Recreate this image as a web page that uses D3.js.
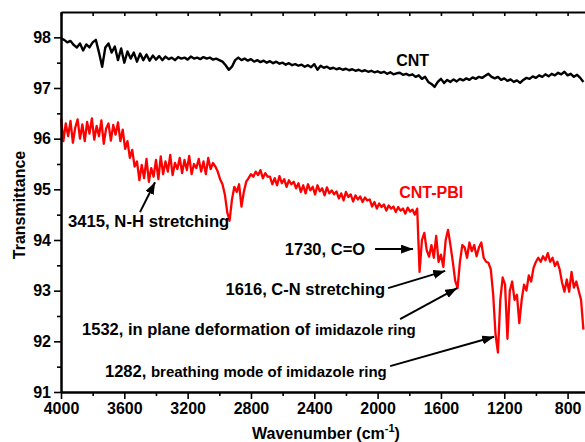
<!DOCTYPE html>
<html>
<head>
<meta charset="utf-8">
<script src="https://cdn.jsdelivr.net/npm/d3@7"></script>
<style>
  body { margin: 0; background: #fff; }
  svg text { font-family: "Liberation Sans", Arial, sans-serif; font-weight: bold; }
</style>
</head>
<body>
<script>
// FTIR traces, sampled on a fixed wavenumber grid (cm-1)
const cntStart = 4000, cntStep = 20;
const pbiStart = 4000, pbiStep = 15;

// CNT transmittance (%), 4000 -> 700 cm-1
const cntValues = [
  97.98, 97.95, 97.90, 97.93, 97.85, 97.80, 97.88, 97.74, 97.86, 97.80,
  97.90, 97.95, 97.70, 97.42, 97.80, 97.88, 97.70, 97.82, 97.55, 97.78,
  97.50, 97.72, 97.58, 97.70, 97.52, 97.68, 97.55, 97.66, 97.54, 97.64,
  97.56, 97.63, 97.55, 97.62, 97.57, 97.60, 97.55, 97.61, 97.58, 97.60,
  97.56, 97.62, 97.58, 97.60, 97.57, 97.61, 97.58, 97.60, 97.56, 97.58,
  97.55, 97.52, 97.45, 97.36, 97.42, 97.55, 97.60, 97.55, 97.58, 97.54,
  97.57, 97.52, 97.55, 97.51, 97.54, 97.50, 97.53, 97.49, 97.52, 97.48,
  97.50, 97.46, 97.49, 97.45, 97.47, 97.44, 97.46, 97.42, 97.45, 97.41,
  97.47, 97.36, 97.44, 97.40, 97.42, 97.38, 97.40, 97.37, 97.39, 97.36,
  97.38, 97.35, 97.37, 97.34, 97.36, 97.33, 97.35, 97.32, 97.34, 97.31,
  97.33, 97.30, 97.32, 97.28, 97.31, 97.27, 97.29, 97.30, 97.26, 97.28,
  97.25, 97.27, 97.22, 97.25, 97.18, 97.22, 97.12, 97.08, 97.02, 97.12,
  97.18, 97.10, 97.16, 97.12, 97.17, 97.13, 97.18, 97.15, 97.19, 97.16,
  97.21, 97.18, 97.22, 97.20, 97.24, 97.28, 97.22, 97.19, 97.22, 97.16,
  97.19, 97.14, 97.17, 97.12, 97.15, 97.10, 97.16, 97.20, 97.18, 97.23,
  97.20, 97.25, 97.22, 97.27, 97.23, 97.28, 97.25, 97.30, 97.27, 97.32,
  97.25, 97.28, 97.22, 97.26, 97.20, 97.12
];

// CNT-PBI transmittance (%), 4000 -> 700 cm-1
const pbiValues = [
  96.40, 95.95, 96.30, 96.05, 96.35, 95.92, 96.22, 96.38, 96.00, 96.28,
  95.95, 96.33, 96.10, 96.40, 95.98, 96.25, 96.05, 96.36, 95.90, 96.20,
  96.30, 95.96, 96.27, 96.08, 96.32,
  95.95, 96.18, 95.80, 95.95, 95.62, 95.78, 95.45,
  95.55, 95.18, 95.48, 95.22, 95.60, 95.15, 95.42, 95.25, 95.58, 95.20,
  95.65, 95.30, 95.55, 95.35, 95.68, 95.28, 95.52, 95.40, 95.62, 95.32,
  95.58, 95.38, 95.66, 95.30, 95.50, 95.42, 95.60, 95.35, 95.55, 95.30,
  95.62, 95.40, 95.52, 95.45,
  95.35, 95.20, 95.10,
  94.90, 94.55, 94.38, 94.80,
  95.05, 94.95, 95.10, 94.66,
  94.95, 95.15, 95.22, 95.30, 95.25, 95.35,
  95.28, 95.38, 95.22, 95.32, 95.25,
  95.25, 95.10, 95.22, 95.08, 95.26, 95.12, 95.20, 95.05, 95.18, 95.10,
  95.15, 95.02,
  95.12, 94.95, 95.08, 94.92, 95.10, 94.98, 95.05, 94.90, 95.08, 94.96,
  95.02, 94.88, 95.04, 94.92, 94.98, 94.90,
  94.96, 94.82, 94.92, 94.78, 94.95, 94.85, 94.90, 94.76, 94.88, 94.80,
  94.86, 94.75, 94.84, 94.78,
  94.80, 94.66, 94.75, 94.62, 94.72, 94.65, 94.70, 94.58, 94.68, 94.62,
  94.66, 94.55, 94.65, 94.58, 94.62, 94.52, 94.64, 94.56, 94.60, 94.50,
  94.62,
  93.37, 94.00, 94.14, 93.80, 93.67, 93.90, 93.65, 94.08, 93.57, 93.71,
  93.47, 94.00, 94.20, 93.90, 93.57, 93.20, 93.05, 93.57, 93.90, 93.85,
  93.65, 93.95, 93.78, 93.90, 93.68, 93.85, 93.95, 93.65, 93.57, 93.55,
  93.42, 92.92, 92.13, 91.78, 92.82, 93.26, 93.12, 92.05, 93.00, 93.18,
  92.82, 92.92, 92.36, 92.82, 93.12, 93.00, 93.30, 93.18, 93.45, 93.57,
  93.65, 93.57, 93.68, 93.60, 93.74, 93.57, 93.65, 93.49, 93.57, 93.42,
  93.16, 92.98, 93.22, 92.98, 93.37, 93.06, 93.18, 93.00, 92.82, 92.23
];

const yTicks = [91, 92, 93, 94, 95, 96, 97, 98];
const xTicks = [4000, 3600, 3200, 2800, 2400, 2000, 1600, 1200, 800];

const width = 585, height = 442;
const margin = { top: 12, left: 61, bottom: 50 };

const svg = d3.select("body")
    .append("svg")
    .attr("width", width)
    .attr("height", height);

// reversed wavenumber axis, cut at the right edge of the picture
const x = d3.scaleLinear().domain([4000, 690]).range([margin.left, width]);
const y = d3.scaleLinear().domain([91, 98.5]).range([height - margin.bottom, margin.top]);

const cnt = cntValues.map((v, i) => [cntStart - i * cntStep, v]);
const pbi = pbiValues.map((v, i) => [pbiStart - i * pbiStep, v]);

const line = d3.line().x(d => x(d[0])).y(d => y(d[1]));

svg.append("path")
    .datum(cnt)
    .attr("d", line)
    .attr("fill", "none")
    .attr("stroke", "#000")
    .attr("stroke-width", 2.4)
    .attr("stroke-linejoin", "round");

svg.append("path")
    .datum(pbi)
    .attr("d", line)
    .attr("fill", "none")
    .attr("stroke", "#ff0000")
    .attr("stroke-width", 2.3)
    .attr("stroke-linejoin", "round");

// axes
const y0 = height - margin.bottom;

const xMinor = d3.range(3800, 600, -400);
const yMinor = d3.range(91.5, 98.5, 1);

svg.append("g")
    .attr("transform", `translate(0,${y0})`)
    .call(d3.axisBottom(x).tickValues(xMinor).tickSize(4).tickSizeOuter(0).tickFormat(""));

svg.append("g")
    .attr("transform", `translate(0,${y0})`)
    .call(d3.axisBottom(x).tickValues(xTicks).tickSize(7).tickSizeOuter(0).tickPadding(4)
        .tickFormat(d3.format("d")))
    .call(g => g.selectAll("text").attr("font-size", 16).attr("fill", "#000"));

svg.append("g")
    .attr("transform", `translate(0,${margin.top})`)
    .call(d3.axisTop(x).tickValues(xTicks.concat(xMinor)).tickSize(-4).tickSizeOuter(0).tickFormat(""));

svg.append("g")
    .attr("transform", `translate(${margin.left},0)`)
    .call(d3.axisLeft(y).tickValues(yMinor).tickSize(4).tickSizeOuter(0).tickFormat(""));

svg.append("g")
    .attr("transform", `translate(${margin.left},0)`)
    .call(d3.axisLeft(y).tickValues(yTicks).tickSize(7).tickSizeOuter(0).tickPadding(3))
    .call(g => g.selectAll("text").attr("font-size", 16).attr("fill", "#000"));

svg.selectAll(".domain").attr("stroke", "#000").attr("stroke-width", 2);
svg.selectAll(".tick line").attr("stroke", "#000").attr("stroke-width", 1.6);

// axis titles
svg.append("text")
    .attr("transform", `translate(25,205) rotate(-90)`)
    .attr("text-anchor", "middle")
    .attr("font-size", 16)
    .text("Transmittance");

const xt = svg.append("text")
    .attr("x", 326)
    .attr("y", 439)
    .attr("text-anchor", "middle")
    .attr("font-size", 16);
xt.append("tspan").text("Wavenumber (cm");
xt.append("tspan").attr("dy", -7).attr("font-size", 11).text("-1");
xt.append("tspan").attr("dy", 7).text(")");

// series labels
svg.append("text")
    .attr("x", x(1883)).attr("y", y(97.43))
    .attr("font-size", 16)
    .text("CNT");

svg.append("text")
    .attr("x", x(1864)).attr("y", y(94.83))
    .attr("font-size", 16)
    .attr("fill", "#ff0000")
    .text("CNT-PBI");

// band assignments with arrows
svg.append("defs").append("marker")
    .attr("id", "head")
    .attr("markerUnits", "userSpaceOnUse")
    .attr("markerWidth", 12)
    .attr("markerHeight", 9)
    .attr("refX", 12)
    .attr("refY", 4.5)
    .attr("orient", "auto")
    .append("path")
    .attr("d", "M0,0L12,4.5L0,9Z")
    .attr("fill", "#000");

const arrows = [
    [[3501, 94.55], [3406, 95.14]],
    [[2016, 93.82], [1776, 93.82]],
    [[1934, 93.05], [1573, 93.39]],
    [[1858, 92.44], [1498, 93.05]],
    [[1921, 91.51], [1264, 92.09]]
];

svg.selectAll(".arrow")
    .data(arrows)
    .enter().append("line")
    .attr("class", "arrow")
    .attr("x1", d => x(d[0][0]))
    .attr("y1", d => y(d[0][1]))
    .attr("x2", d => x(d[1][0]))
    .attr("y2", d => y(d[1][1]))
    .attr("stroke", "#000")
    .attr("stroke-width", 2)
    .attr("marker-end", "url(#head)");

svg.append("text")
    .attr("x", x(3956)).attr("y", y(94.26))
    .attr("font-size", 16.7)
    .text("3415, N-H stretching");

svg.append("text")
    .attr("x", x(2079)).attr("y", y(93.70))
    .attr("text-anchor", "end")
    .attr("font-size", 16.5)
    .text("1730, C=O");

svg.append("text")
    .attr("x", x(1953)).attr("y", y(92.91))
    .attr("text-anchor", "end")
    .attr("font-size", 16.5)
    .text("1616, C-N stretching");

const t1532 = svg.append("text")
    .attr("x", x(3867)).attr("y", y(92.12))
    .attr("font-size", 16.5);
t1532.append("tspan").text("1532, in plane deformation of ");
t1532.append("tspan").attr("font-size", 15).text("imidazole ring");

const t1282 = svg.append("text")
    .attr("x", x(3722)).attr("y", y(91.30))
    .attr("font-size", 16.5);
t1282.append("tspan").text("1282, ");
t1282.append("tspan").attr("font-size", 15).text("breathing mode of imidazole ring");
</script>
</body>
</html>
